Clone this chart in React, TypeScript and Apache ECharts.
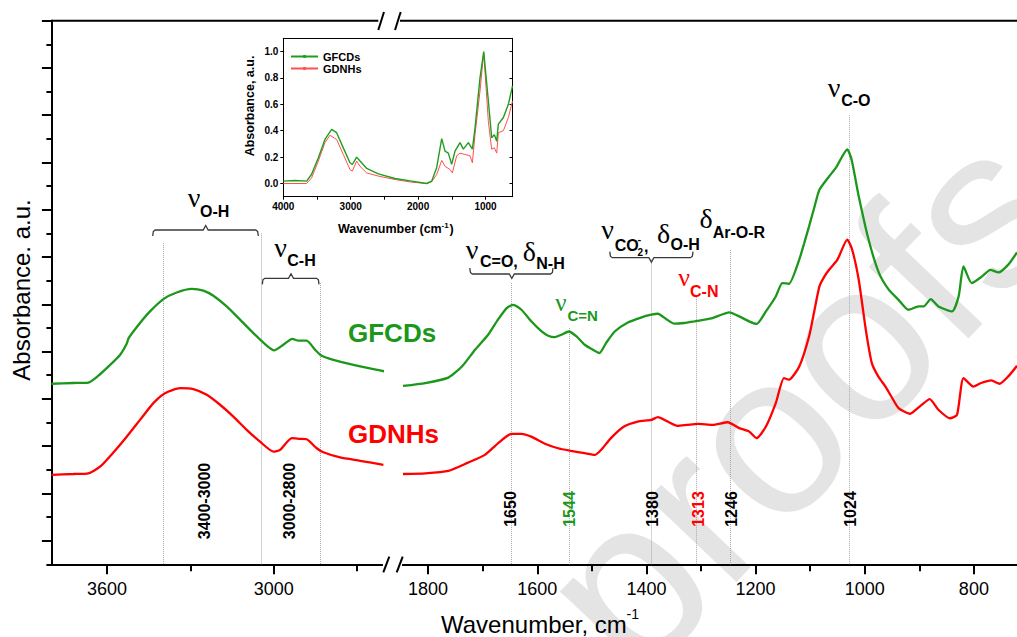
import React, { useEffect, useRef } from 'react';
import * as echarts from 'echarts';

// ---------- DATA (wavenumber cm-1, absorbance a.u. in axis units) ----------
const greenLeft: number[][] = [
  [3800, 7.64], [3721, 7.67], [3667, 7.69], [3631, 7.98], [3601, 8.3], [3553, 8.86], [3529, 9.33], [3522, 9.57],
  [3481, 10.21], [3445, 10.7], [3397, 11.22], [3349, 11.5], [3295, 11.65], [3253, 11.58], [3217, 11.36],
  [3169, 10.91], [3121, 10.35], [3073, 9.78], [3025, 9.25], [2998, 9.05], [2965, 9.29], [2933, 9.54],
  [2911, 9.46], [2881, 9.46], [2851, 9.08], [2827, 8.82], [2785, 8.65], [2713, 8.44], [2641, 8.26], [2600, 8.16],
];
const redLeft: number[][] = [
  [3800, 3.78], [3721, 3.82], [3667, 3.85], [3625, 4.13], [3577, 4.73], [3529, 5.4], [3481, 6.11], [3433, 6.82],
  [3391, 7.24], [3337, 7.45], [3289, 7.41], [3241, 7.17], [3193, 6.75], [3145, 6.25], [3097, 5.69], [3049, 5.19],
  [3001, 4.77], [2977, 4.84], [2935, 5.34], [2905, 5.31], [2881, 5.29], [2845, 4.91], [2821, 4.74], [2761, 4.52],
  [2689, 4.38], [2605, 4.21],
];
const greenRight: number[][] = [
  [1846, 7.55], [1805, 7.67], [1763, 7.9], [1738, 8.37], [1714, 9.08], [1690, 9.71], [1672, 10.35], [1656, 10.84],
  [1644, 10.98], [1629, 10.77], [1611, 10.28], [1592, 9.85], [1580, 9.67], [1568, 9.61], [1556, 9.71], [1542, 9.85],
  [1528, 9.64], [1513, 9.29], [1498, 9.08], [1486, 8.94], [1474, 9.36], [1458, 9.85], [1434, 10.23], [1410, 10.44],
  [1391, 10.56], [1379, 10.6], [1364, 10.38], [1349, 10.18], [1331, 10.21], [1312, 10.28], [1294, 10.35],
  [1279, 10.42], [1248, 10.66], [1230, 10.49], [1212, 10.28], [1198, 10.17], [1181, 10.7], [1163, 11.33],
  [1151, 11.9], [1139, 11.87], [1120, 12.89], [1111, 13.58], [1102, 14.3], [1092, 15.13], [1083, 15.85],
  [1065, 16.42], [1053, 16.77], [1032, 17.55], [1024, 17.12], [1011, 15.57], [993, 13.74], [974, 12.33],
  [956, 11.62], [938, 11.19], [920, 10.77], [901, 10.91], [892, 10.91], [879, 11.22], [865, 10.91], [840, 10.7],
  [828, 11.33], [819, 12.6], [804, 11.9], [785, 12.18], [770, 12.46], [755, 12.35], [737, 12.68], [721, 13.2],
];
const redRight: number[][] = [
  [1846, 3.82], [1805, 3.85], [1763, 3.95], [1727, 4.3], [1696, 4.63], [1672, 5.12], [1647, 5.52], [1629, 5.52],
  [1611, 5.4], [1586, 5.1], [1562, 4.91], [1538, 4.8], [1513, 4.7], [1494, 4.63], [1483, 4.84], [1465, 5.34],
  [1441, 5.83], [1416, 6.04], [1391, 6.11], [1379, 6.23], [1361, 6.04], [1343, 5.86], [1325, 5.9], [1306, 5.94],
  [1279, 5.9], [1251, 6.01], [1230, 5.76], [1212, 5.62], [1198, 5.34], [1181, 5.83], [1163, 6.82], [1148, 7.88],
  [1139, 7.81], [1120, 8.37], [1102, 9.64], [1092, 10.76], [1083, 11.76], [1074, 12.17], [1065, 12.47],
  [1050, 12.89], [1032, 13.74], [1023, 13.31], [1011, 12.04], [998, 9.92], [987, 8.51], [975, 7.94], [962, 7.52],
  [951, 7.09], [938, 6.61], [917, 6.37], [899, 6.68], [881, 6.99], [865, 6.54], [844, 6.18], [831, 6.32],
  [819, 7.88], [801, 7.52], [787, 7.67], [768, 7.78], [753, 7.64], [737, 7.95], [721, 8.4],
];
const insetGreen: number[][] = [
  [4000, 0.018], [3827, 0.023], [3654, 0.018], [3580, 0.07], [3480, 0.195], [3382, 0.334], [3283, 0.41],
  [3209, 0.385], [3110, 0.27], [3011, 0.157], [2976, 0.144], [2912, 0.2], [2862, 0.17], [2763, 0.114],
  [2590, 0.073], [2343, 0.038], [2096, 0.018], [1873, 0.0], [1799, 0.018], [1725, 0.12], [1650, 0.34],
  [1601, 0.245], [1552, 0.23], [1502, 0.145], [1453, 0.245], [1379, 0.31], [1329, 0.26], [1255, 0.31],
  [1195, 0.26], [1156, 0.42], [1082, 0.8], [1027, 1.0], [958, 0.625], [909, 0.347], [869, 0.37], [834, 0.32],
  [810, 0.45], [735, 0.5], [661, 0.6], [600, 0.74],
];
const insetRed: number[][] = [
  [4000, 0.0], [3654, 0.0], [3580, 0.043], [3480, 0.17], [3382, 0.31], [3308, 0.365], [3209, 0.334],
  [3110, 0.22], [3011, 0.106], [2976, 0.094], [2912, 0.17], [2862, 0.13], [2763, 0.08], [2590, 0.056],
  [2343, 0.03], [2096, 0.01], [1873, 0.0], [1799, 0.013], [1725, 0.068], [1650, 0.175], [1601, 0.13],
  [1527, 0.106], [1492, 0.08], [1428, 0.21], [1379, 0.23], [1305, 0.22], [1230, 0.21], [1195, 0.157],
  [1156, 0.37], [1082, 0.7], [1027, 0.99], [958, 0.47], [909, 0.26], [869, 0.27], [834, 0.23], [810, 0.385],
  [735, 0.4], [661, 0.5], [600, 0.625],
];

const leftMajor = [3600, 3000];
const leftMinor = [3300, 2700];
const rightMajor = [1800, 1600, 1400, 1200, 1000, 800];
const rightMinor = [1700, 1500, 1300, 1100, 900];
const yMajor = [1, 3, 5, 7, 9, 11, 13, 15, 17, 19, 21, 23];
const yMinor = [0, 2, 4, 6, 8, 10, 12, 14, 16, 18, 20, 22];
const insetXLabels = [4000, 3000, 2000, 1000];
const insetXTicks = [4000, 3500, 3000, 2500, 2000, 1500, 1000];
const insetYTicks = [0, 0.2, 0.4, 0.6, 0.8, 1.0];

const leftGuides = [3397, 3043, 2831];
const rightGuides = [1647, 1542, 1391, 1308, 1247, 1029];
const bandLabelsLeft = ['3400-3000', '3000-2800'];
const peakLabels = ['1650', '1544', '1380', '1313', '1246', '1024'];

// ---------- STYLE ----------
const GREEN = '#1b971b';
const RED = '#ff0000';
const SANS = "'Liberation Sans', Arial, sans-serif";
const SERIF = "'Liberation Serif', 'Times New Roman', serif";

const leftGuideTop = [13.6, 14.0, 11.9];
const rightGuideTop = [11.9, 10.0, 12.9, 11.3, 13.3, 19.0];

function T(x: number, y: number, text: string, size: number, o: any = {}) {
  return {
    type: 'text', x, y, z: 100, rotation: o.rot || 0,
    style: {
      text, fontSize: size, fontFamily: o.serif ? SERIF : SANS,
      fontWeight: o.bold ? 'bold' : 'normal', fill: o.color || '#000',
      align: o.align || 'left', verticalAlign: 'middle',
    },
  };
}
function bracket(x1: number, x2: number, xc: number, y: number, dir: number) {
  const e = 6 * dir;
  const n = -4.5 * dir;
  return {
    type: 'polyline', z: 50,
    shape: { points: [[x1, y + e], [x1 + 0.6, y + 1.5 * dir], [x1 + 2.5, y], [xc - 2.5, y], [xc, y + n], [xc + 2.5, y], [x2 - 2.5, y], [x2 - 0.6, y + 1.5 * dir], [x2, y + e]] },
    style: { stroke: '#3a3a3a', lineWidth: 1.3, fill: null },
  };
}
function L(x1: number, y1: number, x2: number, y2: number, w = 2) {
  return { type: 'line', z: 60, shape: { x1, y1, x2, y2 }, style: { stroke: '#000', lineWidth: w } };
}

const axisLineBlack = { show: true, onZero: false, lineStyle: { color: '#000', width: 2 } };
const plain = (v: number) => String(Math.round(v));

function mainX(grid: number, min: number, max: number, ticks: number[], labels: boolean, len: number) {
  return {
    type: 'value', gridIndex: grid, inverse: true, min, max, position: 'bottom',
    axisLine: axisLineBlack,
    axisTick: { show: true, customValues: ticks, length: len, lineStyle: { color: '#000', width: 2 } },
    axisLabel: labels
      ? { show: true, customValues: ticks, fontSize: 18, margin: 16, color: '#000', fontFamily: SANS, formatter: plain }
      : { show: false },
    splitLine: { show: false },
  };
}
function mainY(grid: number, ticks: number[], len: number, show = true) {
  return {
    type: 'value', gridIndex: grid, min: 0, max: 23, show, position: 'left',
    axisLine: axisLineBlack,
    axisTick: { show: true, customValues: ticks, length: len, lineStyle: { color: '#000', width: 2 } },
    axisLabel: { show: false }, splitLine: { show: false },
  };
}

const guideLine = (guides: number[], tops: number[]) => ({
  symbol: ['none', 'none'], silent: true, animation: false,
  label: { show: false }, emphasis: { disabled: true },
  lineStyle: { type: 'dotted', color: '#a8a8a8', width: 1 },
  data: guides.map((g, i) => [{ coord: [g, tops[i]] }, { coord: [g, 0] }]),
});

const mainLine = (name: string, data: number[][], color: string, xi: number, yi: number, extra: any = {}) => ({
  type: 'line', name, data, xAxisIndex: xi, yAxisIndex: yi, showSymbol: false, symbol: 'none',
  smooth: 0.2,
  lineStyle: { color, width: 2.3 }, itemStyle: { color }, z: 5, silent: true, ...extra,
});

const graphics: any[] = [
  // watermark
  {
    type: 'text', x: 800, y: 400, z: -10, rotation: 0.81,
    style: { text: 'proofs', fontSize: 230, fontFamily: SANS, fill: '#e4e4e4', align: 'center', verticalAlign: 'middle' },
  },
  // top frame with break
  L(51.4, 20.7, 378.3, 20.7), L(400, 20.7, 1017, 20.7),
  L(378.3, 30, 384, 12), L(395, 30, 400.7, 12),
  L(383.3, 572.3, 389.3, 556.7), L(396.7, 572.3, 402.7, 556.7),
  // brackets
  bracket(152.7, 258.3, 205.7, 230, 1),
  bracket(262.3, 319, 291, 278.3, 1),
  bracket(469.8, 553, 511.8, 274, -1),
  bracket(609.8, 693, 651.4, 257.7, -1),
  // band labels
  T(194, 197, 'ν', 28, { serif: true, align: 'center' }), T(200, 211.5, 'O-H', 16, { bold: true }),
  T(280.7, 247.5, 'ν', 28, { serif: true, align: 'center' }), T(287.3, 260, 'C-H', 16, { bold: true }),
  T(472, 249.5, 'ν', 28, { serif: true, align: 'center' }), T(480, 261.7, 'C=O,', 16, { bold: true }),
  T(529.4, 251.5, 'δ', 28, { serif: true, align: 'center' }), T(536.3, 263, 'N-H', 16, { bold: true }),
  T(607.5, 229.5, 'ν', 28, { serif: true, align: 'center' }), T(614.7, 245.3, 'CO', 16, { bold: true }),
  T(637.5, 238.5, '-', 11, { bold: true }), T(637.5, 252, '2', 10, { bold: true }), T(644, 246, ',', 16, { bold: true }),
  T(663.6, 233.5, 'δ', 28, { serif: true, align: 'center' }), T(670.6, 244.5, 'O-H', 16, { bold: true }),
  T(706, 218.5, 'δ', 28, { serif: true, align: 'center' }), T(712.7, 232, 'Ar-O-R', 16, { bold: true }),
  T(834, 87.5, 'ν', 28, { serif: true, align: 'center' }), T(841.2, 100, 'C-O', 16, { bold: true }),
  T(561, 302, 'ν', 25, { serif: true, align: 'center', color: GREEN }), T(567.5, 315, 'C=N', 15, { bold: true, color: GREEN }),
  T(684, 277, 'ν', 26, { serif: true, align: 'center', color: RED }), T(690, 291, 'C-N', 16, { bold: true, color: RED }),
  // sample labels
  T(348, 332.5, 'GFCDs', 26, { bold: true, color: GREEN }),
  T(348, 434, 'GDNHs', 26, { bold: true, color: RED }),
  // rotated wavenumber labels
  T(204, 501, bandLabelsLeft[0], 16, { bold: true, align: 'center', rot: Math.PI / 2 }),
  T(289, 501, bandLabelsLeft[1], 16, { bold: true, align: 'center', rot: Math.PI / 2 }),
  T(510.6, 509, peakLabels[0], 16, { bold: true, align: 'center', rot: Math.PI / 2 }),
  T(569.8, 509, peakLabels[1], 16, { bold: true, align: 'center', rot: Math.PI / 2, color: GREEN }),
  T(652.7, 509, peakLabels[2], 16, { bold: true, align: 'center', rot: Math.PI / 2 }),
  T(698.4, 509, peakLabels[3], 16, { bold: true, align: 'center', rot: Math.PI / 2, color: RED }),
  T(731, 509, peakLabels[4], 16, { bold: true, align: 'center', rot: Math.PI / 2 }),
  T(850.2, 509, peakLabels[5], 16, { bold: true, align: 'center', rot: Math.PI / 2 }),
  // axis titles
  T(21, 290, 'Absorbance. a.u.', 24, { align: 'center', rot: Math.PI / 2 }),
  T(441, 624.5, 'Wavenumber, cm', 24),
  T(626.5, 614, '-1', 14),
  // inset titles
  T(250, 106, 'Absorbance, a.u.', 12.5, { bold: true, align: 'center', rot: Math.PI / 2 }),
  T(338, 229.3, 'Wavenumber (cm', 12.5, { bold: true }),
  T(441.5, 225, '-1', 8, { bold: true }),
  T(449.5, 229.3, ')', 12.5, { bold: true }),
];

const option: any = {
  animation: false,
  backgroundColor: '#fff',
  textStyle: { fontFamily: SANS },
  grid: [
    { left: 51.4, top: 20.7, width: 330.6, height: 543.6, outerBoundsMode: 'none', containLabel: false },
    { left: 403, top: 20.7, width: 614, height: 543.6, outerBoundsMode: 'none', containLabel: false },
    { left: 283.3, top: 38.3, width: 229.2, height: 158.4, outerBoundsMode: 'none', containLabel: false },
  ],
  legend: {
    data: ['GFCDs', 'GDNHs'], left: 285, top: 46, orient: 'vertical', itemWidth: 27, itemHeight: 4, itemGap: 1,
    textStyle: { fontSize: 11, fontWeight: 'bold', color: '#000', fontFamily: SANS }, selectedMode: false,
  },
  xAxis: [
    mainX(0, 2610, 3800, leftMajor, true, 10),
    mainX(0, 2610, 3800, leftMinor, false, 7),
    mainX(1, 721, 1846, rightMajor, true, 10),
    mainX(1, 721, 1846, rightMinor, false, 7),
    {
      type: 'value', gridIndex: 2, inverse: true, min: 600, max: 4000, position: 'bottom',
      axisLine: { show: true, onZero: false, lineStyle: { color: '#000', width: 1 } },
      axisTick: { show: true, customValues: insetXTicks, length: 3, lineStyle: { color: '#000', width: 1 } },
      axisLabel: { show: true, customValues: insetXLabels, fontSize: 10, fontWeight: 'bold', color: '#000', margin: 5, formatter: plain },
      splitLine: { show: false },
    },
    {
      type: 'value', gridIndex: 2, inverse: true, min: 600, max: 4000, position: 'top',
      axisLine: { show: true, onZero: false, lineStyle: { color: '#000', width: 1 } },
      axisTick: { show: false }, axisLabel: { show: false }, splitLine: { show: false },
    },
  ],
  yAxis: [
    mainY(0, yMajor, 9.5),
    mainY(0, yMinor, 5),
    mainY(1, yMajor, 9.5, false),
    {
      type: 'value', gridIndex: 2, min: -0.1, max: 1.1, position: 'left',
      axisLine: { show: true, onZero: false, lineStyle: { color: '#000', width: 1 } },
      axisTick: { show: true, customValues: insetYTicks, length: 3, lineStyle: { color: '#000', width: 1 } },
      axisLabel: {
        show: true, customValues: insetYTicks, fontSize: 10, fontWeight: 'bold', color: '#000', margin: 5,
        formatter: (v: number) => v.toFixed(1),
      },
      splitLine: { show: false },
    },
    {
      type: 'value', gridIndex: 2, min: -0.1, max: 1.1, position: 'right',
      axisLine: { show: true, onZero: false, lineStyle: { color: '#000', width: 1 } },
      axisTick: { show: true, inside: true, customValues: insetYTicks, length: 3, lineStyle: { color: '#000', width: 1 } },
      axisLabel: { show: false }, splitLine: { show: false },
    },
  ],
  series: [
    mainLine('GFCDs main left', greenLeft, GREEN, 0, 0),
    mainLine('GDNHs main left', redLeft, RED, 0, 0, { markLine: guideLine(leftGuides, leftGuideTop) }),
    mainLine('GFCDs main right', greenRight, GREEN, 2, 2),
    mainLine('GDNHs main right', redRight, RED, 2, 2, { markLine: guideLine(rightGuides, rightGuideTop) }),
    {
      type: 'line', name: 'GFCDs', data: insetGreen, xAxisIndex: 4, yAxisIndex: 3, showSymbol: false,
      symbol: 'circle', symbolSize: 3, lineStyle: { color: '#1e9e1e', width: 1.4 }, itemStyle: { color: '#1e9e1e' }, z: 6,
    },
    {
      type: 'line', name: 'GDNHs', data: insetRed, xAxisIndex: 4, yAxisIndex: 3, showSymbol: false,
      symbol: 'circle', symbolSize: 3, lineStyle: { color: '#ff5050', width: 1 }, itemStyle: { color: '#ff5050' }, z: 5,
    },
  ],
  graphic: { elements: graphics },
};

export default function App() {
  const ref = useRef<HTMLDivElement>(null);
  useEffect(() => {
    const chart = echarts.init(ref.current as HTMLDivElement, null, { renderer: 'svg' });
    chart.setOption(option);
    return () => chart.dispose();
  }, []);
  return (
    <div
      ref={ref}
      style={{ position: 'fixed', left: 0, top: 0, width: 1017, height: 637, background: '#fff' }}
    />
  );
}
